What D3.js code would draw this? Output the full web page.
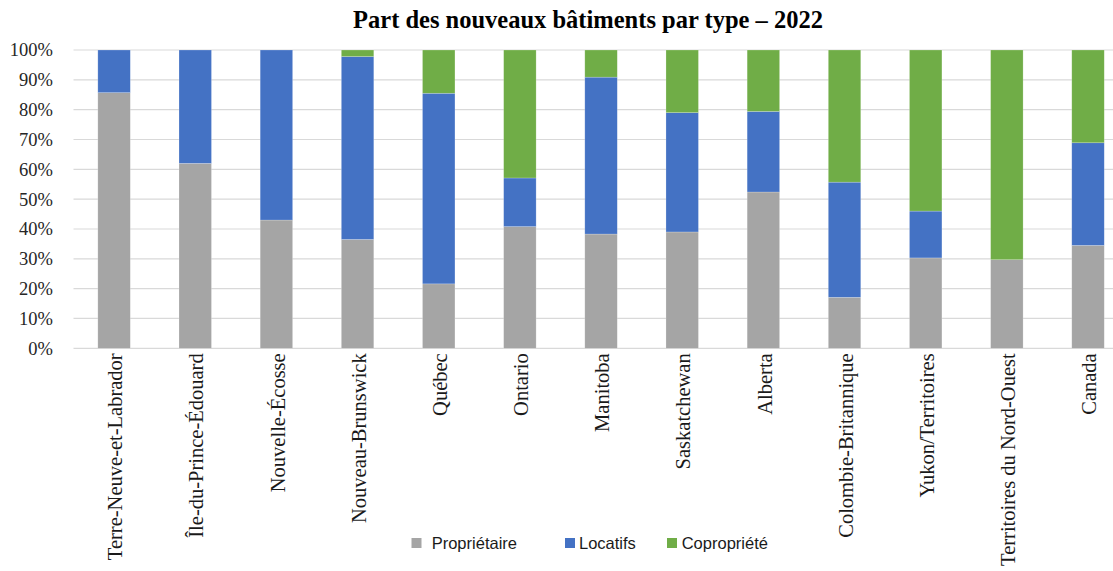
<!DOCTYPE html>
<html><head><meta charset="utf-8">
<script src="https://cdn.jsdelivr.net/npm/d3@7"></script>
<style>body{margin:0;background:#fff;overflow:hidden}</style>
</head><body>
<svg id="c" width="1113" height="571"></svg>
<script>
const categories = ["Terre-Neuve-et-Labrador","Île-du-Prince-Édouard","Nouvelle-Écosse","Nouveau-Brunswick","Québec","Ontario","Manitoba","Saskatchewan","Alberta","Colombie-Britannique","Yukon/Territoires","Territoires du Nord-Ouest","Canada"];
const proprietaire = [85.7,62.0,43.0,36.5,21.6,40.8,38.3,39.0,52.4,17.1,30.3,29.7,34.5];
const locatifs     = [14.3,38.0,57.0,61.3,63.9,16.3,52.6,40.0,27.0,38.6,15.7,0.0,34.4];
const copropriete  = [0.0,0.0,0.0,2.2,14.5,42.9,9.1,21.0,20.6,44.3,54.0,70.3,31.1];
const seriesNames = ["Propriétaire","Locatifs","Copropriété"];
const yTicks = [0,10,20,30,40,50,60,70,80,90,100];
const title = "Part des nouveaux bâtiments par type – 2022";

const colors = ["#A5A5A5","#4472C4","#70AD47"];
const svg = d3.select("#c");
const M = {left:73.5, right:1128.6, top:50, bottom:348.3};

const data = categories.map((c,i)=>({cat:c, "Propriétaire":proprietaire[i], "Locatifs":locatifs[i], "Copropriété":copropriete[i]}));
const stack = d3.stack().keys(seriesNames)(data);

const x = d3.scaleBand().domain(categories).range([M.left,M.right]).paddingInner(0.6).paddingOuter(0.3);
const y = d3.scaleLinear().domain([0,100]).range([M.bottom,M.top]);

// gridlines
svg.append("g").selectAll("line").data(yTicks).join("line")
  .attr("x1",M.left).attr("x2",1113)
  .attr("y1",d=>y(d)).attr("y2",d=>y(d))
  .attr("stroke","#d9d9d9").attr("stroke-width",1.2);

// bars
svg.append("g").selectAll("g").data(stack).join("g")
  .attr("fill",(d,i)=>colors[i])
  .selectAll("rect").data(d=>d.filter(s=>s[1]-s[0]>0)).join("rect")
  .attr("x",d=>x(d.data.cat))
  .attr("width",x.bandwidth())
  .attr("y",d=>y(d[1]))
  .attr("height",d=>y(d[0])-y(d[1]))
  .attr("stroke","rgba(255,255,255,0.35)").attr("stroke-width",0.6);

// y axis
const yAxis = d3.axisLeft(y).tickValues(yTicks).tickFormat(d=>d+"%").tickSize(0).tickPadding(0);
const ya = svg.append("g").attr("transform",`translate(53,0)`).call(yAxis);
ya.select(".domain").remove();
ya.selectAll("text").attr("font-family","Liberation Serif, serif").attr("font-size",18.5).attr("fill","#262626");

// x axis
const xAxis = d3.axisBottom(x).tickSize(0).tickPadding(0);
const xa = svg.append("g").attr("transform",`translate(0,${M.bottom})`).call(xAxis);
xa.select(".domain").remove();
xa.selectAll("text")
  .attr("font-family","Liberation Serif, serif").attr("font-size",20.5).attr("fill","#1a1a1a")
  .attr("text-anchor","end")
  .attr("transform","rotate(-90)")
  .attr("x",-5).attr("y",1).attr("dy","0.35em");

// title
svg.append("text").attr("x",588).attr("y",28).attr("text-anchor","middle")
  .attr("font-family","Liberation Serif, serif").attr("font-weight","bold").attr("font-size",24.5)
  .attr("fill","#000").text(title);

// legend
const legX = [411.5,565,667];
const txtX = [431.7,579,681.7];
const lg = svg.append("g");
seriesNames.forEach((n,i)=>{
  lg.append("rect").attr("x",legX[i]).attr("y",538).attr("width",10).attr("height",10).attr("fill",colors[i]);
  lg.append("text").attr("x",txtX[i]).attr("y",543).attr("dy","0.35em")
    .attr("font-family","Liberation Sans, sans-serif").attr("font-size",16.5).attr("fill","#1a1a1a").text(n);
});
</script>
</body></html>
